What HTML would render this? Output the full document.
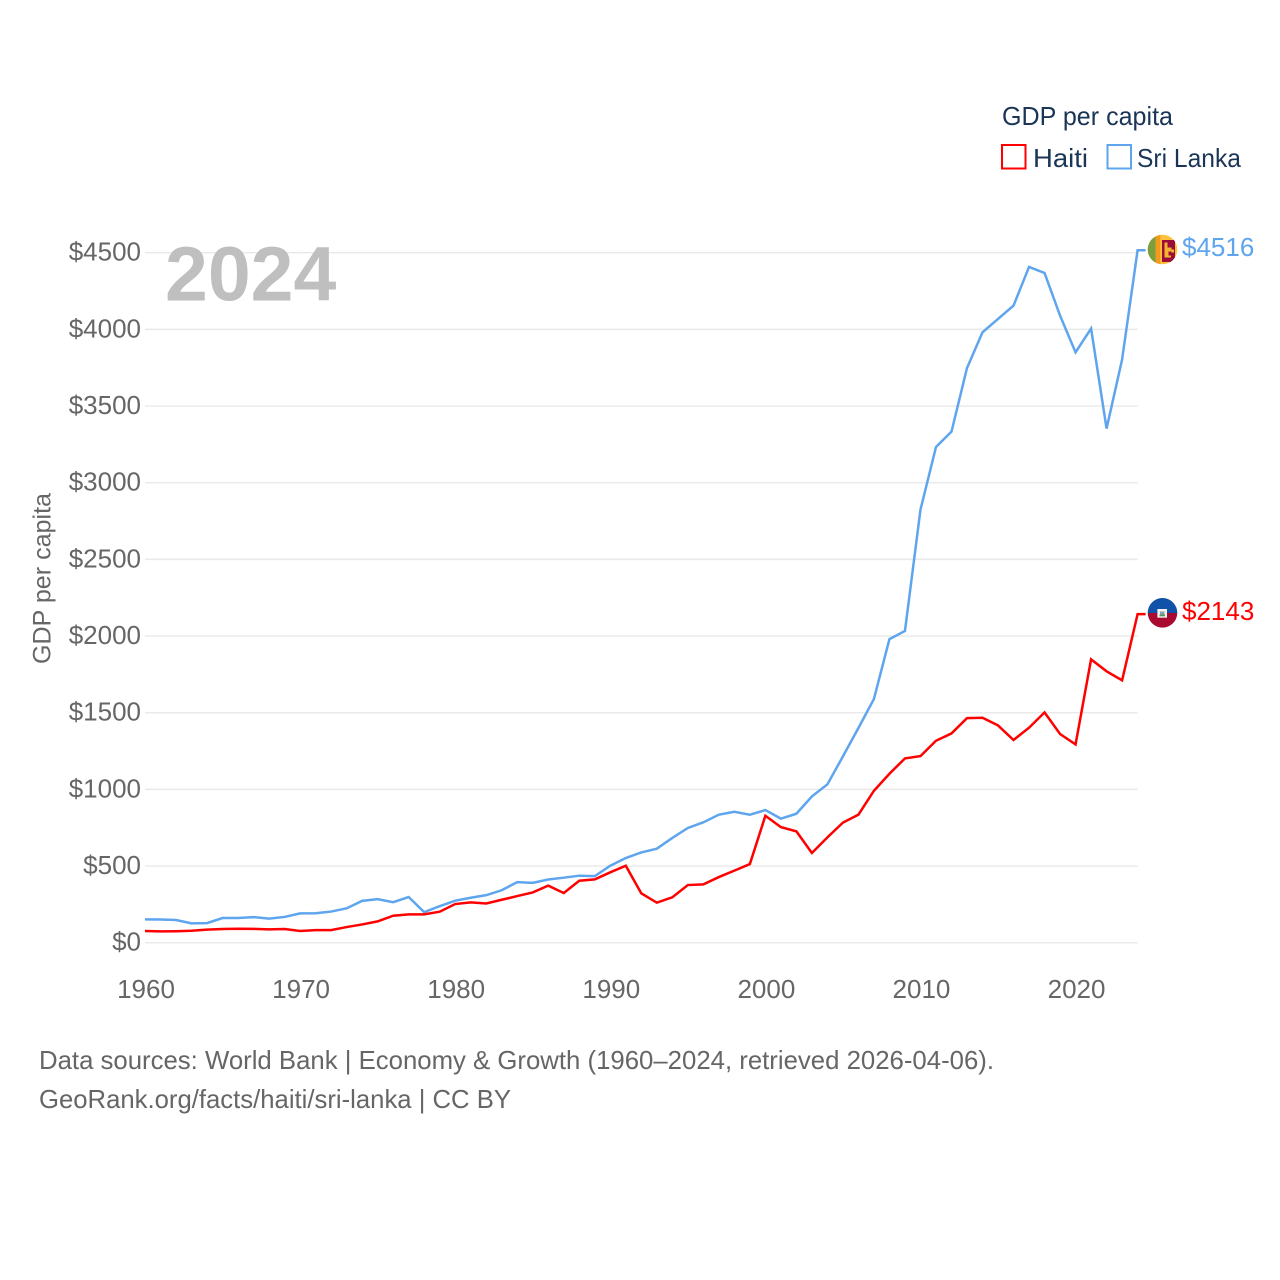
<!DOCTYPE html>
<html lang="en">
<head>
<meta charset="utf-8">
<title>GDP per capita: Haiti and Sri Lanka</title>
<style>
html,body{margin:0;padding:0;background:#fff;width:1280px;height:1280px;overflow:hidden}
svg{display:block}
text{font-family:"Liberation Sans",Arial,sans-serif}
</style>
</head>
<body>
<svg id="chart" xmlns="http://www.w3.org/2000/svg" width="1280" height="1280" viewBox="0 0 1280 1280">
  <defs>
    <clipPath id="clip-lk"><circle cx="1162.5" cy="249.5" r="14.8"/></clipPath>
    <clipPath id="clip-ht"><circle cx="1162.5" cy="612.8" r="14.8"/></clipPath>
  </defs>
  <g id="grid"></g>
  <g id="y-axis"></g>
  <g id="x-axis"></g>
  <text transform="translate(50.5 578.5) rotate(-90)" text-anchor="middle" font-size="25" fill="#666" textLength="171" lengthAdjust="spacingAndGlyphs">GDP per capita</text>
  <text x="165" y="300.5" font-size="77" font-weight="700" fill="#bfbfbf">2024</text>
  <g id="series"></g>

  <g clip-path="url(#clip-lk)">
    <rect x="1147" y="234" width="31" height="31" fill="#fdc13b"/>
    <rect x="1147" y="234" width="8.5" height="31" fill="#7a9f3c"/>
    <rect x="1155.5" y="234" width="4.8" height="31" fill="#f39a1e"/>
    <rect x="1162" y="240" width="13" height="22" fill="#9b0e3c"/>
    <path d="M1164.5 242.5h3v5h4v2h2.5v3h-2.5v-1h-3v4h2.5v2h-6.5z" fill="#f2b530"/>
  </g>
  <g clip-path="url(#clip-ht)">
    <rect x="1147" y="597" width="31" height="16" fill="#0f52a8"/>
    <rect x="1147" y="613" width="31" height="16" fill="#a80a30"/>
    <rect x="1157.4" y="609" width="9.6" height="8.7" fill="#f4f4f0"/>
    <rect x="1160" y="611.5" width="4.5" height="3" fill="#8a9fb0"/>
    <rect x="1159.5" y="614.5" width="5.5" height="1.8" fill="#4f9a5a"/>
  </g>
  <text id="end-lk" x="1182" y="256" font-size="26" fill="#5ea5ee">$4516</text>
  <text id="end-ht" x="1182" y="620" font-size="26" fill="#ff0000">$2143</text>

  <g>
    <text x="1002" y="125" font-size="26" fill="#1b3556" textLength="171" lengthAdjust="spacingAndGlyphs">GDP per capita</text>
    <g>
      <rect x="1002" y="145" width="23.5" height="23.5" fill="#fff" stroke="#ff0000" stroke-width="2"/>
      <text x="1033" y="167" font-size="26" fill="#1b3556" textLength="55" lengthAdjust="spacingAndGlyphs">Haiti</text>
    </g>
    <g>
      <rect x="1107.5" y="145" width="23.5" height="23.5" fill="#fff" stroke="#5ea5ee" stroke-width="2"/>
      <text x="1137" y="167" font-size="26" fill="#1b3556" textLength="104" lengthAdjust="spacingAndGlyphs">Sri Lanka</text>
    </g>
  </g>

  <text x="39" y="1069" font-size="26" fill="#666" textLength="955" lengthAdjust="spacingAndGlyphs">Data sources: World Bank | Economy &amp; Growth (1960–2024, retrieved 2026-04-06).</text>
  <text x="39" y="1108" font-size="26" fill="#666" textLength="472" lengthAdjust="spacingAndGlyphs">GeoRank.org/facts/haiti/sri-lanka | CC BY</text>
</svg>
<script>
const years = [1960,1961,1962,1963,1964,1965,1966,1967,1968,1969,1970,1971,1972,1973,1974,1975,1976,1977,1978,1979,1980,1981,1982,1983,1984,1985,1986,1987,1988,1989,1990,1991,1992,1993,1994,1995,1996,1997,1998,1999,2000,2001,2002,2003,2004,2005,2006,2007,2008,2009,2010,2011,2012,2013,2014,2015,2016,2017,2018,2019,2020,2021,2022,2023,2024];
const haitiValues = [76,74,75,78,85,89,91,90,87,89,76,82,82,102,119,139,176,185,185,202,252,263,256,280,304,328,372,324,404,413,459,502,322,261,296,376,380,428,470,513,828,754,726,585,687,783,835,991,1102,1202,1217,1317,1365,1465,1467,1417,1322,1402,1502,1361,1293,1848,1770,1711,2143];
const sriLankaValues = [152,151,148,126,128,161,161,167,157,168,191,192,203,224,273,284,264,298,199,238,274,293,310,342,395,390,412,424,437,434,502,552,589,613,683,748,785,835,854,835,865,809,841,954,1033,1215,1400,1590,1980,2033,2824,3233,3333,3748,3981,4068,4155,4407,4368,4090,3850,4005,3353,3803,4516];
const yTickValues = [0,500,1000,1500,2000,2500,3000,3500,4000,4500];
const yTickLabels = ["$0","$500","$1000","$1500","$2000","$2500","$3000","$3500","$4000","$4500"];
const xTickValues = [1960,1970,1980,1990,2000,2010,2020];
const xTickLabels = ["1960","1970","1980","1990","2000","2010","2020"];

const NS = 'http://www.w3.org/2000/svg';
const xScale = function (year) { return 145 + (year - 1960) * (1137.6 - 145) / 64; };
const yScale = function (value) { return 942.7 - value * 690 / 4500; };

const gridGroup = document.getElementById('grid');
const yAxisGroup = document.getElementById('y-axis');
const xAxisGroup = document.getElementById('x-axis');
const seriesGroup = document.getElementById('series');

yTickValues.forEach(function (tick, i) {
  const line = document.createElementNS(NS, 'line');
  
  
  line.setAttribute('x1', xScale(1960));
  line.setAttribute('x2', xScale(2024));
  line.setAttribute('y1', yScale(tick));
  line.setAttribute('y2', yScale(tick));
  line.setAttribute('stroke', '#e9e9e9');
  line.setAttribute('stroke-width', '1.4');
  gridGroup.appendChild(line);

  const label = document.createElementNS(NS, 'text');
  
  
  label.setAttribute('x', 141);
  label.setAttribute('y', yScale(tick) + 8);
  label.setAttribute('text-anchor', 'end');
  label.setAttribute('font-size', '26');
  label.setAttribute('fill', '#666');
  label.textContent = yTickLabels[i];
  yAxisGroup.appendChild(label);
});

xTickValues.forEach(function (tick, i) {
  const label = document.createElementNS(NS, 'text');
  
  
  label.setAttribute('x', xScale(tick) + 1);
  label.setAttribute('y', 998);
  label.setAttribute('text-anchor', 'middle');
  label.setAttribute('font-size', '26');
  label.setAttribute('fill', '#666');
  label.textContent = xTickLabels[i];
  xAxisGroup.appendChild(label);
});

function linePath(values) {
  let d = '';
  values.forEach(function (v, i) {
    d += (i ? 'L' : 'M') + xScale(years[i]).toFixed(2) + ' ' + yScale(v).toFixed(2);
  });
  const last = values[values.length - 1];
  d += 'L' + (xScale(years[years.length - 1]) + 8).toFixed(2) + ' ' + yScale(last).toFixed(2);
  return d;
}

const sriLankaLine = document.createElementNS(NS, 'path');


sriLankaLine.setAttribute('d', linePath(sriLankaValues));
sriLankaLine.setAttribute('fill', 'none');
sriLankaLine.setAttribute('stroke', '#5ea5ee');
sriLankaLine.setAttribute('stroke-width', '2.5');
seriesGroup.appendChild(sriLankaLine);

const haitiLine = document.createElementNS(NS, 'path');


haitiLine.setAttribute('d', linePath(haitiValues));
haitiLine.setAttribute('fill', 'none');
haitiLine.setAttribute('stroke', '#ff0000');
haitiLine.setAttribute('stroke-width', '2.5');
seriesGroup.appendChild(haitiLine);

document.getElementById('end-lk').textContent = '$' + sriLankaValues[sriLankaValues.length - 1];
document.getElementById('end-ht').textContent = '$' + haitiValues[haitiValues.length - 1];
</script>
</body>
</html>
